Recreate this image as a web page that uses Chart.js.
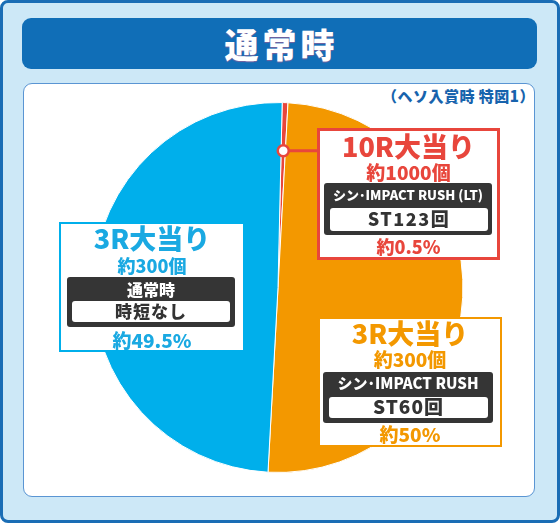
<!DOCTYPE html>
<html>
<head>
<meta charset="utf-8">
<script src="https://cdn.jsdelivr.net/npm/chart.js@4.4.0/dist/chart.umd.min.js"></script>
<style>
body { margin: 0; width: 560px; height: 523px; overflow: hidden; background: #fff;
  font-family: "Noto Sans CJK JP", "Noto Sans", sans-serif; font-weight: 900; }
.abs { position: absolute; box-sizing: border-box; }
#frame { left: 0; top: 0; width: 560px; height: 523px; background: #cde8f7; border: 3px solid #1a6db5; border-radius: 8px; }
#titlebar { left: 22px; top: 18px; width: 515px; height: 51px; background: #106eb7; border-radius: 9px;
  color: #fff; font-size: 34px; line-height: 51px; text-align: center; letter-spacing: 4px; text-indent: 4px;
  text-shadow: 0 1px 1px rgba(190, 90, 140, 0.6); }
#panel { left: 23px; top: 83px; width: 512px; height: 414px; background: #fff; border: 1.5px solid #5a95d3; border-radius: 9px; }
#note { left: 300px; top: 85px; width: 235px; text-align: right; font-size: 15px; color: #1763ad; line-height: 22px; letter-spacing: 0.5px; }
#pie { position: absolute; left: 0; top: 0; }
.box { background: #fff; }
.dark { background: #353535; border-radius: 3px; }
.inner { background: #fff; border-radius: 3px; }
.line { white-space: nowrap; text-align: center; }
</style>
</head>
<body>
<div id="frame" class="abs"></div>
<div id="titlebar" class="abs">通常時</div>
<div id="panel" class="abs"></div>
<div id="note" class="abs">（ヘソ入賞時 特図1）</div>
<canvas id="pie" width="560" height="523"></canvas>
<div id="labels"></div>

<script>
// Data
const categories = ['10R大当り', '3R大当り', '3R大当り'];
const shares = [0.5, 50, 49.5];
const prizes = ['約1000個', '約300個', '約300個'];
const modes = ['シン･IMPACT RUSH (LT)', 'シン･IMPACT RUSH', '通常時'];
const rushes = ['ST123回', 'ST60回', '時短なし'];
const shareLabels = ['約0.5%', '約50%', '約49.5%'];
const sliceColors = ['#e8463c', '#f39800', '#00afeb'];
const textColors = ['#e8463c', '#f39800', '#1aa9e2'];

// Label box layout (page coordinates)
const boxLayout = [
    { x: 317, y: 128, w: 183, h: 132, bw: 3, title: [148, 27], prize: [173, 19], dark: [324, 183, 168, 52],
      mode: [196, 13], inner: [330, 208, 158, 23], rush: [219.5, 18, 1.5], share: [248, 18] },
    { x: 318, y: 317, w: 184, h: 130, bw: 2, title: [335, 27], prize: [360, 19], dark: [323, 372, 170, 51],
      mode: [384.5, 15], inner: [329, 397, 159, 21], rush: [407.5, 19, 1], share: [435, 19] },
    { x: 59, y: 222, w: 186, h: 130, bw: 2, title: [240, 27], prize: [267, 18], dark: [67, 277, 168, 50],
      mode: [290, 16], inner: [72, 301, 158, 21], rush: [311.5, 17, 1], share: [341, 19] }
];

const labels = document.getElementById('labels');

function addDiv(cls, x, y, w, h, style) {
    const d = document.createElement('div');
    d.className = 'abs ' + cls;
    d.style.left = x + 'px';
    d.style.top = y + 'px';
    d.style.width = w + 'px';
    if (h != null) d.style.height = h + 'px';
    Object.assign(d.style, style || {});
    labels.appendChild(d);
    return d;
}

function addLine(text, x, w, spec, color) {
    const [cy, size, spacing] = spec;
    const lh = size * 1.5;
    const d = addDiv('line', x, cy - lh / 2 - size * 0.06, w, lh, {
        fontSize: size + 'px', lineHeight: lh + 'px', color: color,
        letterSpacing: (spacing || 0) + 'px'
    });
    d.textContent = text;
}

boxLayout.forEach((b, i) => {
    const c = textColors[i];
    addDiv('box', b.x, b.y, b.w, b.h, { border: `${b.bw}px solid ${sliceColors[i]}` });
    addLine(categories[i], b.x, b.w, b.title, c);
    addLine(prizes[i], b.x, b.w, b.prize, c);
    const [dx, dy, dw, dh] = b.dark;
    addDiv('dark', dx, dy, dw, dh);
    addLine(modes[i], dx, dw, b.mode, '#fff');
    const [ix, iy, iw, ih] = b.inner;
    addDiv('inner', ix, iy, iw, ih);
    addLine(rushes[i], ix, iw, b.rush, '#333');
    addLine(shareLabels[i], b.x, b.w, b.share, c);
});

// Connector from the 10R slice to its box
const connector = {
    id: 'connector',
    afterDatasetsDraw(chart) {
        const arc = chart.getDatasetMeta(0).data[0];
        const { x, y, startAngle, endAngle, outerRadius } = arc.getProps(['x', 'y', 'startAngle', 'endAngle', 'outerRadius'], true);
        const mid = (startAngle + endAngle) / 2;
        const px = x + Math.cos(mid) * outerRadius * 0.74;
        const py = y + Math.sin(mid) * outerRadius * 0.74;
        const ctx = chart.ctx;
        ctx.save();
        ctx.strokeStyle = sliceColors[0];
        ctx.lineWidth = 3;
        ctx.beginPath();
        ctx.moveTo(px, py);
        ctx.lineTo(boxLayout[0].x + 1, py);
        ctx.stroke();
        ctx.beginPath();
        ctx.arc(px, py, 5.5, 0, Math.PI * 2);
        ctx.fillStyle = '#fff';
        ctx.fill();
        ctx.lineWidth = 2.5;
        ctx.stroke();
        ctx.restore();
    }
};

new Chart(document.getElementById('pie').getContext('2d'), {
    type: 'pie',
    data: {
        labels: categories,
        datasets: [{
            data: shares,
            backgroundColor: sliceColors,
            borderColor: '#fff',
            borderWidth: 1
        }]
    },
    options: {
        responsive: false,
        animation: false,
        rotation: 1.3,
        layout: { padding: { left: 92, top: 102, right: 96, bottom: 50 } },
        plugins: { legend: { display: false }, tooltip: { enabled: false } }
    },
    plugins: [connector]
});
</script>
</body>
</html>
